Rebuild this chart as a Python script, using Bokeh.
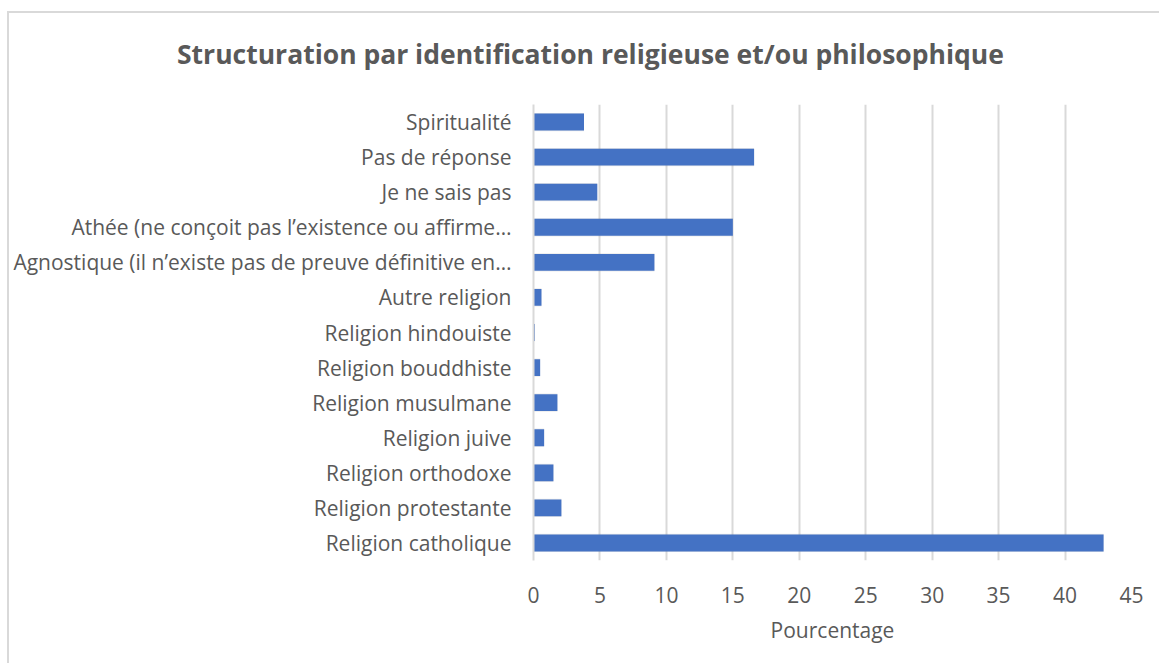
from bokeh.plotting import figure
from bokeh.models import Range1d, FactorRange, SingleIntervalTicker, Div
from bokeh.layouts import column
from bokeh.embed import file_html
from bokeh.resources import INLINE

categories = [
    "Spiritualité",
    "Pas de réponse",
    "Je ne sais pas",
    "Athée (ne conçoit pas l’existence ou affirme…",
    "Agnostique (il n’existe pas de preuve définitive en…",
    "Autre religion",
    "Religion hindouiste",
    "Religion bouddhiste",
    "Religion musulmane",
    "Religion juive",
    "Religion orthodoxe",
    "Religion protestante",
    "Religion catholique",
]
values = [3.8, 16.6, 4.8, 15.0, 9.1, 0.6, 0.1, 0.5, 1.8, 0.8, 1.5, 2.1, 42.9]

title_text = "Structuration par identification religieuse et/ou philosophique"
x_label = "Pourcentage"

FONT = "Open Sans"
GREY = "#595959"

title_div = Div(
    text=title_text, width=1140, height=81,
    styles={"font-family": FONT, "font-size": "26.5px", "font-weight": "bold",
            "color": GREY, "padding-left": "163px", "padding-top": "18px",
            "line-height": "36px", "box-sizing": "border-box",
            "white-space": "nowrap", "background": "white"},
)

p = figure(
    width=1140, height=559,
    y_range=FactorRange(*categories[::-1], range_padding=0),
    x_range=Range1d(0, 45),
    output_backend="svg", toolbar_location=None,
    min_border_left=524, min_border_right=18,
    min_border_top=0, min_border_bottom=103,
)
p.outline_line_color = None
p.background_fill_color = "white"
p.border_fill_color = "white"

# shadow
p.hbar(y=categories, right=values, left=0, height=0.52, color="#7f7f7f",
       fill_alpha=0.16, line_alpha=0)
p.hbar(y=categories, right=values, left=0, height=0.48, fill_color="#4472C4",
       line_color=None)

p.xaxis.ticker = SingleIntervalTicker(interval=5)
p.xgrid.ticker = SingleIntervalTicker(interval=5)
p.xgrid.grid_line_color = "#d9d9d9"
p.xgrid.grid_line_width = 2
p.ygrid.grid_line_color = None
p.xaxis.axis_line_color = None
p.xaxis.major_tick_line_color = None
p.xaxis.minor_tick_line_color = None
p.xaxis.major_label_text_font = FONT
p.xaxis.major_label_text_font_size = "21px"
p.xaxis.major_label_text_color = GREY
p.xaxis.major_label_standoff = 20
p.xaxis.axis_label = x_label
p.xaxis.axis_label_text_font = FONT
p.xaxis.axis_label_text_font_size = "21px"
p.xaxis.axis_label_text_font_style = "normal"
p.xaxis.axis_label_text_color = GREY
p.xaxis.axis_label_standoff = 10

p.yaxis.axis_line_color = "#d9d9d9"
p.yaxis.axis_line_width = 2
p.yaxis.major_tick_line_color = None
p.yaxis.minor_tick_line_color = None
p.yaxis.major_label_text_font = FONT
p.yaxis.major_label_text_font_size = "21px"
p.yaxis.major_label_text_color = GREY
p.yaxis.major_label_standoff = 16

layout = column(title_div, p, spacing=0)
layout.styles = {"margin-top": "11px", "margin-left": "7px",
                 "border-top": "2px solid #d9d9d9",
                 "border-left": "2px solid #d9d9d9",
                 "background": "white"}

open("out.html", "w").write(file_html(layout, INLINE))
